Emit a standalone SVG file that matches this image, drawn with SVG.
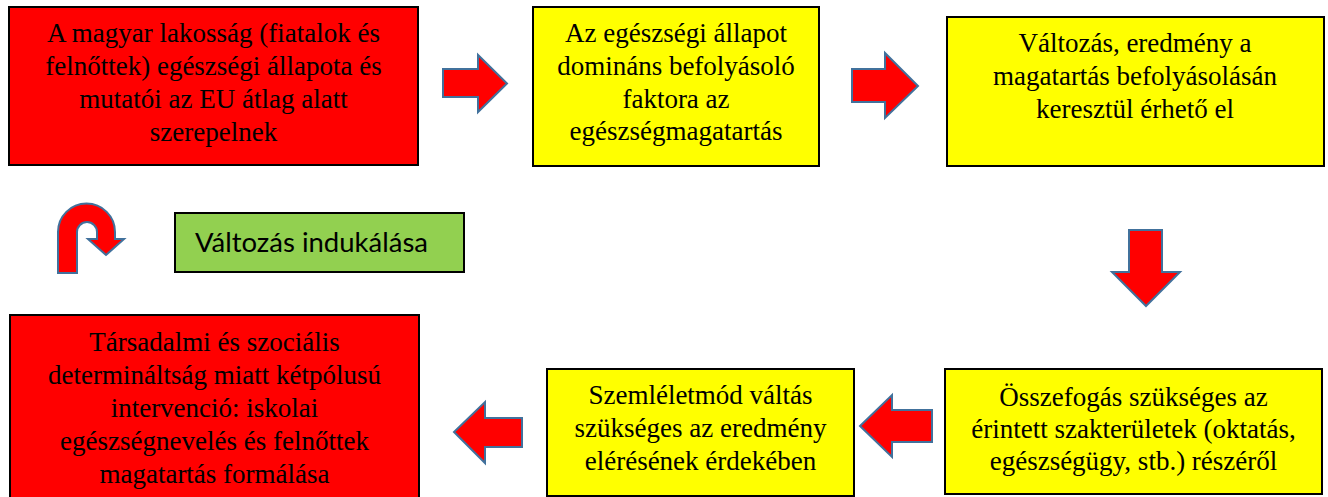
<svg xmlns="http://www.w3.org/2000/svg" width="1328" height="497" viewBox="0 0 1328 497">
<style>
.box{stroke:#000;stroke-width:2}
.red{fill:#FF0000}
.yel{fill:#FFFF00}
.grn{fill:#92D050}
.arr{fill:#FF0000;stroke:#41719C;stroke-width:2;stroke-linejoin:miter}
.t{font-family:"Liberation Serif","Times New Roman",serif;font-size:27px;fill:#000;text-anchor:middle}
.s{font-family:Lato,"Liberation Sans",sans-serif;font-size:27.5px;fill:#000}
</style>
<rect width="1328" height="497" fill="#fff"/>
<g id="connectors">
<polygon class="arr" points="443,69 478,69 478,55 507,83.5 478,112 478,97 443,97"/>
<polygon class="arr" points="852,69 885,69 885,53 918,86 885,118 885,102 852,102"/>
<polygon class="arr" points="1129,230 1162,230 1162,272 1180,272 1146,306 1112,272 1129,272"/>
<polygon class="arr" points="522,418 485,418 485,402 454,432 485,463 485,447 522,447"/>
<polygon class="arr" points="932,410 892,410 892,395 860,426 892,457 892,442 932,442"/>
<path class="arr" d="M58,273 L58,232 A28.5,28.5 0 0 1 115,232 L115,239 L124,239 L106,255 L88,239 L97,239 L97,232 A10,10 0 0 0 77,232 L77,273 Z"/>
</g>
<g id="node1">
<rect class="box red" x="9" y="7" width="409" height="158"/>
<text class="t" x="213.5" y="42">A magyar lakosság (fiatalok és</text>
<text class="t" x="213.5" y="75">felnőttek) egészségi állapota és</text>
<text class="t" x="213.5" y="108">mutatói az EU átlag alatt</text>
<text class="t" x="213.5" y="141">szerepelnek</text>
</g>
<g id="node2">
<rect class="box yel" x="533" y="7" width="286" height="159"/>
<text class="t" x="676" y="42">Az egészségi állapot</text>
<text class="t" x="676" y="75">domináns befolyásoló</text>
<text class="t" x="676" y="108">faktora az</text>
<text class="t" x="676" y="140">egészségmagatartás</text>
</g>
<g id="node3">
<rect class="box yel" x="947" y="17" width="377" height="149"/>
<text class="t" x="1135" y="52">Változás, eredmény a</text>
<text class="t" x="1135" y="85">magatartás befolyásolásán</text>
<text class="t" x="1135" y="118">keresztül érhető el</text>
</g>
<g id="node-green">
<rect class="box grn" x="175" y="213" width="289" height="59"/>
<text class="s" x="195" y="252">Változás indukálása</text>
</g>
<g id="node4">
<rect class="box red" x="10" y="315" width="409" height="190"/>
<text class="t" x="214.5" y="351">Társadalmi és szociális</text>
<text class="t" x="214.5" y="384">determináltság miatt kétpólusú</text>
<text class="t" x="214.5" y="417">intervenció: iskolai</text>
<text class="t" x="214.5" y="450">egészségnevelés és felnőttek</text>
<text class="t" x="214.5" y="483">magatartás formálása</text>
</g>
<g id="node5">
<rect class="box yel" x="547" y="369" width="307" height="127"/>
<text class="t" x="700.5" y="404">Szemléletmód váltás</text>
<text class="t" x="700.5" y="437">szükséges az eredmény</text>
<text class="t" x="700.5" y="470">elérésének érdekében</text>
</g>
<g id="node6">
<rect class="box yel" x="945" y="369" width="377" height="125"/>
<text class="t" x="1133.5" y="406">Összefogás szükséges az</text>
<text class="t" x="1133.5" y="438">érintett szakterületek (oktatás,</text>
<text class="t" x="1133.5" y="470">egészségügy, stb.) részéről</text>
</g>
</svg>
